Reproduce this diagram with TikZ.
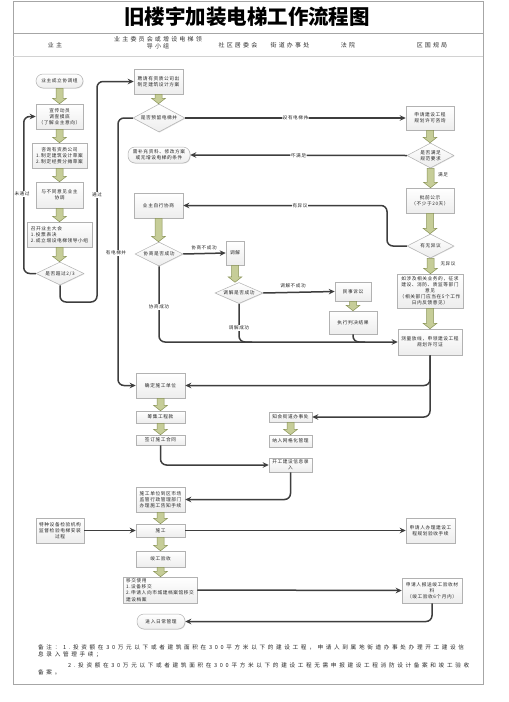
\documentclass[tikz,border=0pt]{standalone}
\usepackage{fontspec}
\newfontfamily\cjk{Noto Sans CJK SC}
\newfontfamily\cjkbox[LetterSpace=12]{Noto Sans CJK SC}
\newfontfamily\cjkhead[LetterSpace=36]{Noto Sans CJK SC}
\newfontfamily\cjknote[LetterSpace=48]{Noto Sans CJK SC}
\usetikzlibrary{shapes.geometric,arrows.meta,calc,shadows}
\definecolor{gfill}{RGB}{198,205,152}
\definecolor{gline}{RGB}{138,148,88}
\definecolor{cline}{RGB}{62,62,62}
\newcommand{\garrow}[2]{\draw[gstyle] let \p1=(#1.south), \p2=(#2.north) in
  (\x1-3.5pt,\y1) -- (\x1+3.5pt,\y1) -- (\x1+3.5pt,\y2+5.5pt) -- (\x1+7pt,\y2+5.5pt) --
  (\x1,\y2) -- (\x1-7pt,\y2+5.5pt) -- (\x1-3.5pt,\y2+5.5pt) -- cycle;}
\begin{document}
\begin{tikzpicture}[x=1pt,y=-1pt,
  box/.style={draw=gray!60, line width=0.5pt, top color=white, bottom color=gray!14,
    font=\cjkbox\fontsize{4.7}{6.2}\selectfont, align=center, inner sep=0pt, text=black!85,
    drop shadow={shadow xshift=0.6pt,shadow yshift=-0.6pt,opacity=0.25}},
  term/.style={box, rounded corners=7pt},
  dia/.style={box, diamond, aspect=2},
  sz/.style 2 args={minimum width=#1pt, minimum height=#2pt},
  gstyle/.style={fill=gfill, draw=gline, line width=0.5pt, line join=miter},
  conn/.style={draw=cline, line width=1.5pt, rounded corners=6pt, -{Stealth[length=6pt,width=5.5pt]}},
  plain/.style={draw=cline, line width=1.5pt, rounded corners=6pt},
  lab/.style={font=\cjkbox\fontsize{4.6}{5}\selectfont, fill=white, inner sep=0.6pt, text=black!85},
  frame/.style={draw=gray!70, line width=0.8pt}]
\useasboundingbox (0,0) rectangle (509,702);
\fill[white] (0,0) rectangle (509,702);
% frame and header
\draw[frame] (13,1) rectangle (483,684);
\draw[frame] (13,33) -- (483,33);
\draw[draw=gray!35, line width=0.5pt] (13,56) -- (483,56);
\node[font=\cjk\bfseries\fontsize{20.5}{22}\selectfont] (title) at (247,16.5) {旧楼宇加装电梯工作流程图};
\begin{scope}[every node/.style={font=\cjkhead\fontsize{6}{7}\selectfont, text=black!80, align=center}]
\node (h1) at (55,45) {业主};
\node (h2) at (158,43) {业主委员会或增设电梯领\\导小组};
\node (h3) at (238,45) {社区居委会};
\node (h4) at (290,45) {街道办事处};
\node (h5) at (348,45) {法院};
\node (h6) at (432,45) {区国规局};
\end{scope}
% nodes: owner column
\node[term,sz={47}{14}] (cz) at (59.5,81) {业主成立协调组};
\node[box,sz={47}{25}] (xc) at (59.5,116.5) {宣传动员\\调查摸底\\（了解业主意向）};
\node[box,sz={55}{25}] (zx1) at (59.5,155.5) {咨询有资质公司\\1.制定建筑设计草案\\2.制定经费分摊草案};
\node[box,sz={47}{26}] (yb) at (59.5,195) {与不同意见业主\\协调};
\node[box,sz={65}{25},align=left] (zk) at (59.5,234.5) {召开业主大会\\1.投票表决\\2.成立增设电梯领导小组};
\node[dia,sz={48}{23}] (d23) at (60,273.5) {是否超过2/3};
\node[box,sz={48}{25}] (tz) at (60,530.5) {特种设备检验机构\\监督检验电梯安装\\过程};
% committee column
\node[box,sz={49}{25}] (pq) at (158.5,81.5) {聘请有资质公司出\\制定建筑设计方案};
\node[dia,sz={52}{28}] (dj) at (159,118) {是否预留电梯井};
\node[term,sz={62}{16}] (bc) at (159,155) {需补充资料、修改方案\\或无增设电梯的条件};
\node[box,sz={49}{25}] (xs) at (158.5,205.5) {业主自行协商};
\node[dia,sz={48}{24}] (dx) at (159,254) {协商是否成功};
\node[box,sz={49}{25}] (qd) at (160.5,385.5) {确定施工单位};
\node[box,sz={49}{12}] (cj) at (160.5,417) {筹集工程款};
\node[box,sz={49}{10}] (qh) at (160.5,440) {签订施工合同};
\node[box,sz={49}{25}] (sg1) at (160.5,499.5) {施工单位到区市场\\监管行政管理部门\\办理施工告知手续};
\node[box,sz={49}{13}] (sg) at (160.5,530.5) {施工};
\node[box,sz={49}{16}] (jg) at (160.5,559) {竣工验收};
\node[box,sz={74}{26},align=left] (yj) at (160,590) {移交使用\\1.设备移交\\2.申请人向市城建档案馆移交\\建设档案};
\node[term,sz={48}{15}] (rc) at (161,621.5) {进入日常管理};
% community / street / court
\node[box,sz={18}{24}] (tj) at (235,253) {调解};
\node[dia,sz={48}{21}] (dt) at (239,293) {调解是否成功};
\node[box,sz={43}{10}] (zh) at (290.5,417) {知会街道办事处};
\node[box,sz={43}{12}] (nr) at (290.5,441) {纳入网格化管理};
\node[box,sz={43}{14}] (kg) at (290.5,465) {开工建设信息录\\入};
\node[box,sz={36}{19}] (ms) at (353,291.5) {民事诉讼};
\node[box,sz={48}{23}] (zx) at (353,322.5) {执行判决结果};
% planning bureau column
\node[box,sz={48}{24}] (sq) at (430,118) {申请建设工程\\规划许可咨询};
\node[dia,sz={47}{25}] (dm) at (430.5,155.5) {是否满足\\规范要求};
\node[box,sz={48}{25}] (pg) at (430,200.5) {批前公示\\（不少于20天）};
\node[dia,sz={47}{24}] (dy) at (430.5,246) {有无异议};
\node[box,sz={66}{34},font=\cjkbox\fontsize{4.7}{6}\selectfont] (rs) at (430,291) {如涉及相关业务的，征求\\建设、消防、质监等部门\\意见\\（相关部门应当在5个工作\\日内反馈意见）};
\node[box,sz={64}{26}] (cl) at (430,342) {测量放线，申领建设工程\\规划许可证};
\node[box,sz={49}{25}] (sqy) at (430.5,530.5) {申请人办理建设工\\程规划验收手续};
\node[box,sz={60}{25}] (bs) at (432,590.5) {申请人报送竣工验收材\\料\\（竣工验收6个月内）};
% green arrows
\garrow{cz}{xc}
\garrow{xc}{zx1}
\garrow{zx1}{yb}
\garrow{yb}{zk}
\garrow{zk}{d23}
\garrow{pq}{dj}
\garrow{sq}{dm}
\garrow{dm}{pg}
\garrow{pg}{dy}
\garrow{dy}{rs}
\garrow{rs}{cl}
\garrow{xs}{dx}
\garrow{tj}{dt}
\garrow{ms}{zx}
\garrow{qd}{cj}
\garrow{cj}{qh}
\garrow{zh}{nr}
\garrow{sg1}{sg}
\garrow{sg}{jg}
\garrow{jg}{yj}
% connectors
\draw[conn] (d23.west) -- ++(-12,0) |- (xc.west);
\draw[conn] (d23.south) |- (97,302) |- (pq.west);
\draw[conn] (dj.west) -- (118,118) |- (qd.west);
\draw[conn] (dj.east) -- node[lab] (l4) {没有电梯井} (sq.west);
\draw[conn] (dm.west) -- node[lab] (l5) {不满足} (bc.east);
\draw[conn] (dy.west) -| (387,205.5) -- (xs.east);
\draw[conn] (dx.east) -- (tj.west);
\draw[conn] (dt.east) -- (ms.west);
\draw[conn] (dx.south) |- (cl.west);
\draw[plain] (dt.south) |- (252,342);
\draw[plain] (zx.south) |- (365,342);
\draw[conn] (cl.south) |- (qd.east);
\draw[conn] (cl.south) |- (zh.east);
\draw[conn] (qh.south) |- (kg.west);
\draw[conn] (kg.south) |- (sg1.east);
\draw[conn] (tz.east) -- (sg.west);
\draw[conn] (sg.east) -- (sqy.west);
\draw[conn] (yj.east) -- (bs.west);
\draw[conn] (bs.south) |- (rc.east);
% labels
\node[lab] (l1) at (22,194) {未通过};
\node[lab] (l2) at (97,195) {通过};
\node[lab] (l3) at (116,253) {有电梯井};
\node[lab] (l6) at (300,205.5) {有异议};
\node[lab,fill=none] (l7) at (204,247.5) {协商不成功};
\node[lab,fill=none] (l8) at (293,285.5) {调解不成功};
\node[lab] (l9) at (159,307) {协商成功};
\node[lab] (l10) at (239,328) {调解成功};
\node[lab,fill=none] (l11) at (443,175) {满足};
\node[lab,fill=none] (l12) at (448,264) {无异议};
% notes
\node[font=\cjknote\fontsize{5.6}{6.6}\selectfont, align=left, anchor=north west, inner sep=0pt, text=black!85] (note) at (38,644.5)
 {备注：1.投资额在30万元以下或者建筑面积在300平方米以下的建设工程，申请人到属地街道办事处办理开工建设信\\息录入管理手续；\\[5pt]\hspace*{30pt}2.投资额在30万元以下或者建筑面积在300平方米以下的建设工程无需申报建设工程消防设计备案和竣工验收\\备案。};
\end{tikzpicture}
\end{document}
